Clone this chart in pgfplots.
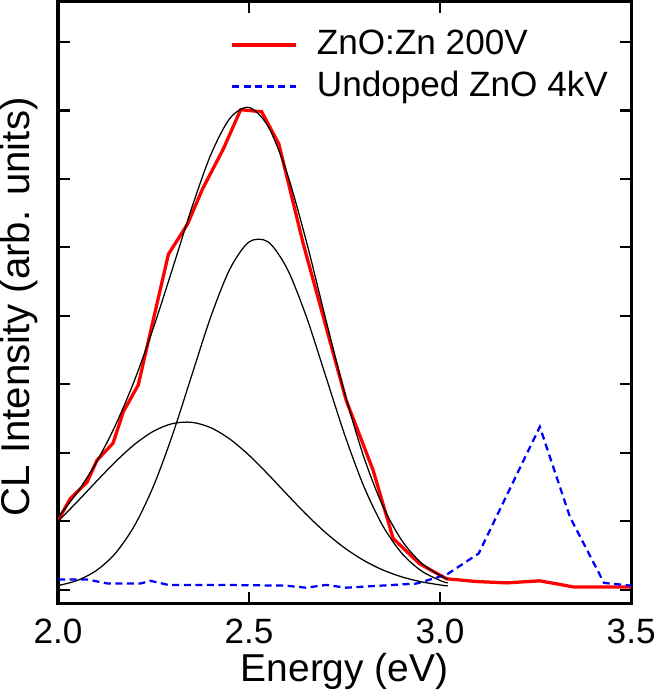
\documentclass[border=0pt]{standalone}
\usepackage{fontspec}
\setmainfont{Liberation Sans}
\usepackage{pgfplots}
\pgfplotsset{compat=1.18}

\begin{document}
\begin{tikzpicture}
\begin{axis}[
  scale only axis,
  width=228.4pt, height=240pt,
  xmin=2, xmax=3.5, ymin=-0.205, ymax=8.59,
  xtick={2,2.5,3,3.5},
  xticklabels={2.0,2.5,3.0,3.5},
  ytick={0,1,...,8}, yticklabels={},
  tick align=inside, major tick length=4.6pt,
  every tick/.style={black, line width=0.9pt},
  axis line style={line width=1.2pt},
  /pgf/number format/assume math mode=true,
  tick label style={font=\fontsize{14}{16}\selectfont},
  xticklabel style={inner sep=0pt, yshift=-6pt},
  xlabel={Energy (eV)},
  ylabel={CL Intensity (arb. units)},
  xlabel style={font=\fontsize{15.5}{17}\selectfont, inner sep=0pt, yshift=-3.6pt},
  every axis y label/.style={at={(rel axis cs:0,0.493)}, rotate=90, anchor=south,
    inner sep=0pt, yshift=8pt, font=\fontsize{16}{18}\selectfont},
  legend style={draw=none, fill=none, at={(rel axis cs:0.98,0.968)}, anchor=north east,
    font=\fontsize{14}{16}\selectfont, row sep=1.5pt,
    nodes={inner sep=1.5pt, text depth=0.21em},
    /tikz/every odd column/.append style={column sep=6pt}},
  legend cell align=left,
  legend image code/.code={\draw[#1] (0pt,0pt) -- (25.6pt,0pt);},
]
% ZnO:Zn 200V
\addplot[red, line width=1.3pt] coordinates {
  (2.000,1.01) (2.032,1.33) (2.076,1.57) (2.102,1.89) (2.144,2.14) (2.171,2.60)
  (2.210,2.99) (2.289,4.90) (2.339,5.34) (2.378,5.85) (2.433,6.44) (2.478,7.01)
  (2.533,6.98) (2.578,6.51) (2.641,5.07) (2.754,2.77) (2.825,1.74) (2.877,0.75)
  (2.946,0.38) (3.017,0.16) (3.095,0.12) (3.174,0.10) (3.261,0.13) (3.350,0.04)
  (3.500,0.04)
};
\addlegendentry{ZnO:Zn 200V}
% undoped ZnO 4kV
\addplot[blue, line width=0.9pt, dash pattern=on 2.8pt off 1.8pt] coordinates {
  (2.000,0.15) (2.076,0.15) (2.131,0.09) (2.215,0.09) (2.242,0.13) (2.289,0.07)
  (2.439,0.07) (2.596,0.06) (2.649,0.03) (2.701,0.07) (2.754,0.03) (2.938,0.09)
  (3.017,0.22) (3.101,0.53) (3.261,2.38) (3.340,1.06) (3.429,0.10) (3.500,0.06)
};
\addlegendentry{Undoped ZnO 4kV}
% fit: two bands and their sum
\addplot[black, line width=0.5pt, smooth, forget plot] coordinates {
  (2.00,1.000) (2.05,1.283) (2.10,1.579) (2.15,1.867) (2.20,2.121) (2.25,2.315)
  (2.30,2.427) (2.35,2.445) (2.40,2.366) (2.45,2.199) (2.50,1.964) (2.55,1.685)
  (2.60,1.388) (2.65,1.099) (2.70,0.836) (2.75,0.611) (2.80,0.429) (2.85,0.289)
  (2.90,0.187) (2.95,0.117) (3.00,0.070) (3.02,0.056)
};
\addplot[black, line width=0.5pt, smooth, forget plot] coordinates {
  (2.00,0.060) (2.05,0.135) (2.10,0.279) (2.15,0.531) (2.20,0.934) (2.25,1.515)
  (2.30,2.267) (2.35,3.130) (2.40,3.988) (2.45,4.685) (2.50,5.079) (2.55,5.079)
  (2.60,4.685) (2.65,3.988) (2.70,3.130) (2.75,2.267) (2.80,1.515) (2.85,0.934)
  (2.90,0.531) (2.95,0.279) (3.00,0.135) (3.02,0.099)
};
\addplot[black, line width=0.5pt, smooth, forget plot] coordinates {
  (2.00,1.060) (2.05,1.418) (2.10,1.858) (2.15,2.398) (2.20,3.055) (2.25,3.830)
  (2.30,4.694) (2.35,5.575) (2.40,6.354) (2.45,6.884) (2.50,7.043) (2.55,6.764)
  (2.60,6.073) (2.65,5.087) (2.70,3.966) (2.75,2.878) (2.80,1.944) (2.85,1.223)
  (2.90,0.718) (2.95,0.396) (3.00,0.205) (3.02,0.155)
};
\end{axis}
\end{tikzpicture}
\end{document}
